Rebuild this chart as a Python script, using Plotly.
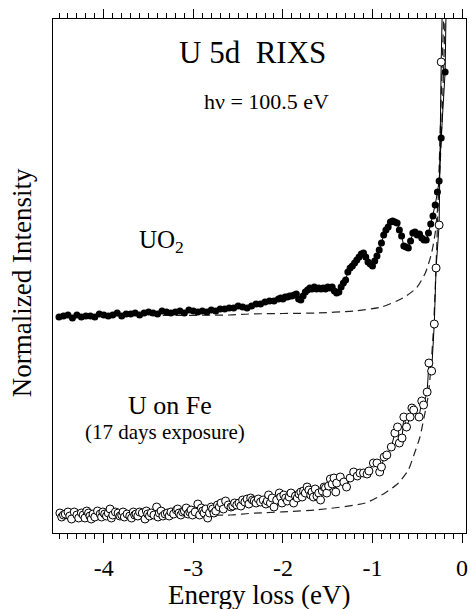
import plotly.graph_objects as go

# ---------------- data ----------------
# Energy loss (eV) and normalized intensity (arbitrary units)
uo2_x = [-4.50, -4.45, -4.40, -4.35, -4.30, -4.25, -4.20, -4.15, -4.10, -4.05,
         -4.00, -3.95, -3.90, -3.85, -3.80, -3.75, -3.70, -3.65, -3.60, -3.55,
         -3.50, -3.45, -3.40, -3.35, -3.30, -3.25, -3.20, -3.15, -3.10, -3.05,
         -3.00, -2.95, -2.90, -2.85, -2.80, -2.75, -2.70, -2.65, -2.60, -2.55,
         -2.50, -2.45, -2.40, -2.35, -2.30, -2.25, -2.20, -2.15, -2.10, -2.05,
         -2.025, -2.000, -1.975, -1.950, -1.925, -1.900, -1.875, -1.850, -1.825, -1.800,
         -1.775, -1.750, -1.725, -1.700, -1.675, -1.650, -1.625, -1.600, -1.575, -1.550,
         -1.525, -1.500, -1.475, -1.450, -1.425, -1.400, -1.375, -1.350, -1.325, -1.300,
         -1.275, -1.250, -1.225, -1.200, -1.175, -1.150, -1.125, -1.100, -1.075, -1.050,
         -1.025, -1.000, -0.975, -0.950, -0.925, -0.900, -0.875, -0.850, -0.825, -0.800,
         -0.775, -0.750, -0.725, -0.700, -0.675, -0.650, -0.625, -0.600, -0.575, -0.550,
         -0.525, -0.500, -0.475, -0.450, -0.425, -0.400, -0.375, -0.350, -0.325, -0.300,
         -0.275, -0.256, -0.233, -0.189, -0.170]
uo2_y = [216, 217, 218, 215, 218, 216, 217, 217, 216, 219,
         218, 217, 218, 220, 217, 219, 219, 220, 218, 220,
         221, 220, 219, 222, 221, 220, 221, 222, 220, 223,
         222, 221, 222, 221, 223, 222, 224, 224, 225, 225,
         227, 226, 225, 227, 229, 229, 231, 232, 232, 234,
         235, 234, 236, 236, 237, 237, 238, 239, 234, 233,
         237, 241, 243, 245, 244, 246, 244, 245, 244, 245,
         244, 246, 245, 246, 242, 240, 241, 246, 250, 253,
         261, 265, 267, 270, 273, 276, 279, 280, 276, 271,
         269, 267, 272, 277, 283, 290, 298, 303, 306, 311,
         312, 311, 310, 303, 297, 287, 286, 285, 292, 300,
         301, 298, 299, 295, 293, 293, 300, 309, 317, 328,
         341, 352, 395, 461, 573]

fe_x = [-4.49, -4.45, -4.40, -4.36, -4.30, -4.25, -4.21, -4.17, -4.14, -4.10,
        -4.04, -4.01, -3.97, -3.93, -3.90, -3.84, -3.80, -3.77, -3.71, -3.67,
        -3.64, -3.60, -3.54, -3.51, -3.47, -3.41, -3.38, -3.34, -3.29, -3.25,
        -3.19, -3.16, -3.12, -3.08, -3.04, -3.01, -2.95, -2.91, -2.88, -2.84,
        -2.80, -2.77, -2.73, -2.69, -2.64, -2.58, -2.54, -2.49, -2.45, -2.40,
        -2.36, -2.34, -2.30, -2.25, -2.19, -2.16, -2.12, -2.10, -2.04, -2.01,
        -1.99, -1.95, -1.91, -1.88, -1.84, -1.80, -1.77, -1.73, -1.69, -1.66,
        -1.62, -1.58, -1.54, -1.51, -1.47, -1.43, -1.41, -1.40, -1.36, -1.32,
        -1.29, -1.25, -1.21, -1.17, -1.14, -1.10, -1.06, -1.04, -0.99, -0.95,
        -0.92, -0.90, -0.87, -0.84, -0.79, -0.75, -0.72, -0.70, -0.67, -0.65,
        -0.62, -0.58, -0.56, -0.54, -0.48, -0.45, -0.43, -0.39, -0.37, -0.34,
        -0.31, -0.29, -0.256, -0.233, -0.210]
fe_y = [20, 18, 21, 14, 18, 20, 15, 20, 14, 16,
        19, 21, 17, 24, 18, 20, 18, 16, 17, 21,
        19, 21, 14, 19, 20, 26, 20, 17, 20, 21,
        23, 20, 21, 25, 21, 18, 29, 25, 20, 15,
        26, 20, 28, 30, 32, 26, 30, 30, 33, 34,
        35, 33, 30, 31, 29, 38, 35, 26, 40, 30,
        38, 32, 40, 30, 35, 41, 42, 46, 38, 36,
        37, 33, 46, 40, 54, 55, 41, 50, 56, 51,
        46, 55, 61, 57, 60, 60, 59, 62, 70, 70,
        61, 66, 76, 78, 86, 100, 106, 90, 95, 116,
        106, 116, 125, 123, 116, 132, 128, 141, 170, 162,
        209, 265, 308, 471, 573]

# further overlapping open circles in the dense part of the U-on-Fe trace
fe_x_more = [-4.47, -4.43, -4.38, -4.33, -4.28, -4.23, -4.19, -4.155, -4.12, -4.07,
             -4.025, -3.99, -3.95, -3.915, -3.87, -3.82, -3.785, -3.74, -3.69, -3.655,
             -3.62, -3.57, -3.525, -3.49, -3.44, -3.395, -3.36, -3.315, -3.27, -3.22,
             -3.175, -3.14, -3.10, -3.06, -3.025, -2.98, -2.93, -2.895, -2.86, -2.82,
             -2.785, -2.75, -2.71, -2.665, -2.61, -2.56, -2.515, -2.47, -2.425, -2.38,
             -2.32, -2.275, -2.22, -2.175, -2.14, -2.07, -2.025, -1.97, -1.93, -1.86,
             -1.82, -1.785, -1.75, -1.71, -1.675, -1.64, -1.60, -1.56, -1.525, -1.49,
             -1.45]
fe_y_more = [16, 19, 17, 21, 15, 18, 22, 17, 19, 22,
             16, 19, 20, 15, 21, 17, 21, 19, 15, 18,
             17, 20, 22, 17, 18, 16, 22, 19, 17, 19,
             24, 18, 22, 19, 23, 21, 18, 22, 24, 20,
             24, 22, 26, 24, 28, 27, 28, 27, 31, 29,
             32, 34, 33, 32, 30, 33, 36, 35, 36, 37,
             39, 36, 40, 43, 41, 44, 40, 42, 45, 47,
             49]

uo2_bg_x = [-4.50, -3.50, -2.60, -2.38, -1.64, -1.20, -0.90, -0.66, -0.51, -0.41,
            -0.34, -0.30, -0.27, -0.245, -0.22, -0.20, -0.18]
uo2_bg_y = [217, 217.5, 218, 219, 220, 222, 226, 235, 245, 260,
            280, 300, 328, 368, 423, 483, 553]

fe_bg_x = [-4.50, -2.58, -2.38, -1.64, -1.08, -0.86, -0.71, -0.60, -0.53, -0.47,
           -0.43, -0.38, -0.35, -0.32, -0.30, -0.28, -0.26, -0.24, -0.22, -0.20]
fe_bg_y = [18, 18, 19.5, 23, 30, 40, 50, 63, 80, 96,
           113, 136, 163, 203, 243, 293, 353, 413, 473, 533]

x_tick_vals = [-4, -3, -2, -1, 0]
x_tick_text = ["-4", "-3", "-2", "-1", "0"]

FONT = "Liberation Serif, Times New Roman, serif"

fe_pts = sorted(zip(fe_x + fe_x_more, fe_y + fe_y_more))
fe_all_x = [p[0] for p in fe_pts]
fe_all_y = [p[1] for p in fe_pts]

fig = go.Figure()

# model (dashed) curves
for bx, by in ((uo2_bg_x, uo2_bg_y), (fe_bg_x, fe_bg_y)):
    fig.add_trace(go.Scatter(x=bx, y=by, mode="lines",
                             line=dict(color="#222", width=1.2, dash="8px,5px",
                                       shape="spline", smoothing=0.6),
                             hoverinfo="skip"))

# data
fig.add_trace(go.Scatter(x=uo2_x, y=uo2_y, mode="lines+markers",
                         line=dict(color="black", width=1),
                         marker=dict(symbol="circle", size=7, color="black",
                                     line=dict(color="black", width=0))))
fig.add_trace(go.Scatter(x=fe_all_x, y=fe_all_y, mode="lines+markers",
                         line=dict(color="black", width=1),
                         marker=dict(symbol="circle", size=8, color="white",
                                     line=dict(color="black", width=1))))

# plot-area pixel geometry used to place texts
L, R, T, B = 53, 468, 19, 533
PW, PH = R - L, B - T


def px(xp, yp):
    return (xp - L) / PW, (B - yp) / PH


texts = [
    ("U 5d\u00a0\u00a0RIXS", 253, 52, 31, 0),
    ("h\u03bd = 100.5 eV", 268, 101, 22, 0),
    ("UO<sub>2</sub>", 162, 241, 25, 0),
    ("U on Fe", 171, 405, 26, 0),
    ("(17 days exposure)", 166, 432, 21, 0),
    ("Normalized Intensity", 22, 283, 27, -90),
    ("Energy loss (eV)", 260, 595, 27, 0),
]
annotations = []
for t, xp, yp, size, ang in texts:
    xx, yy = px(xp, yp)
    annotations.append(dict(x=xx, y=yy, xref="paper", yref="paper", text=t,
                            showarrow=False, textangle=ang, xanchor="center",
                            yanchor="middle",
                            font=dict(family=FONT, size=size, color="black")))

fig.update_layout(
    width=470, height=609,
    margin=dict(l=L, r=470 - R, t=T, b=609 - B),
    paper_bgcolor="white", plot_bgcolor="white",
    showlegend=False,
    font=dict(family=FONT, color="black"),
    annotations=annotations,
    xaxis=dict(range=[-4.567, 0.044], showgrid=False, zeroline=False,
               showline=True, linecolor="black", linewidth=1, mirror="ticks",
               ticks="outside", ticklen=9, tickwidth=1, tickcolor="black",
               tickvals=x_tick_vals, ticktext=x_tick_text,
               tickfont=dict(family=FONT, size=24, color="black"),
               ticklabelstandoff=4, ticklabeloverflow="allow",
               minor=dict(dtick=0.1, tick0=0, ticks="outside", ticklen=5,
                          tickwidth=1, tickcolor="black", showgrid=False)),
    yaxis=dict(range=[0, 514], showgrid=False, zeroline=False,
               showline=True, linecolor="black", linewidth=1, mirror=True,
               ticks="", showticklabels=False),
)

fig.write_html("out.html", config={"displayModeBar": False},
               post_script="document.body.style.margin='0';")
